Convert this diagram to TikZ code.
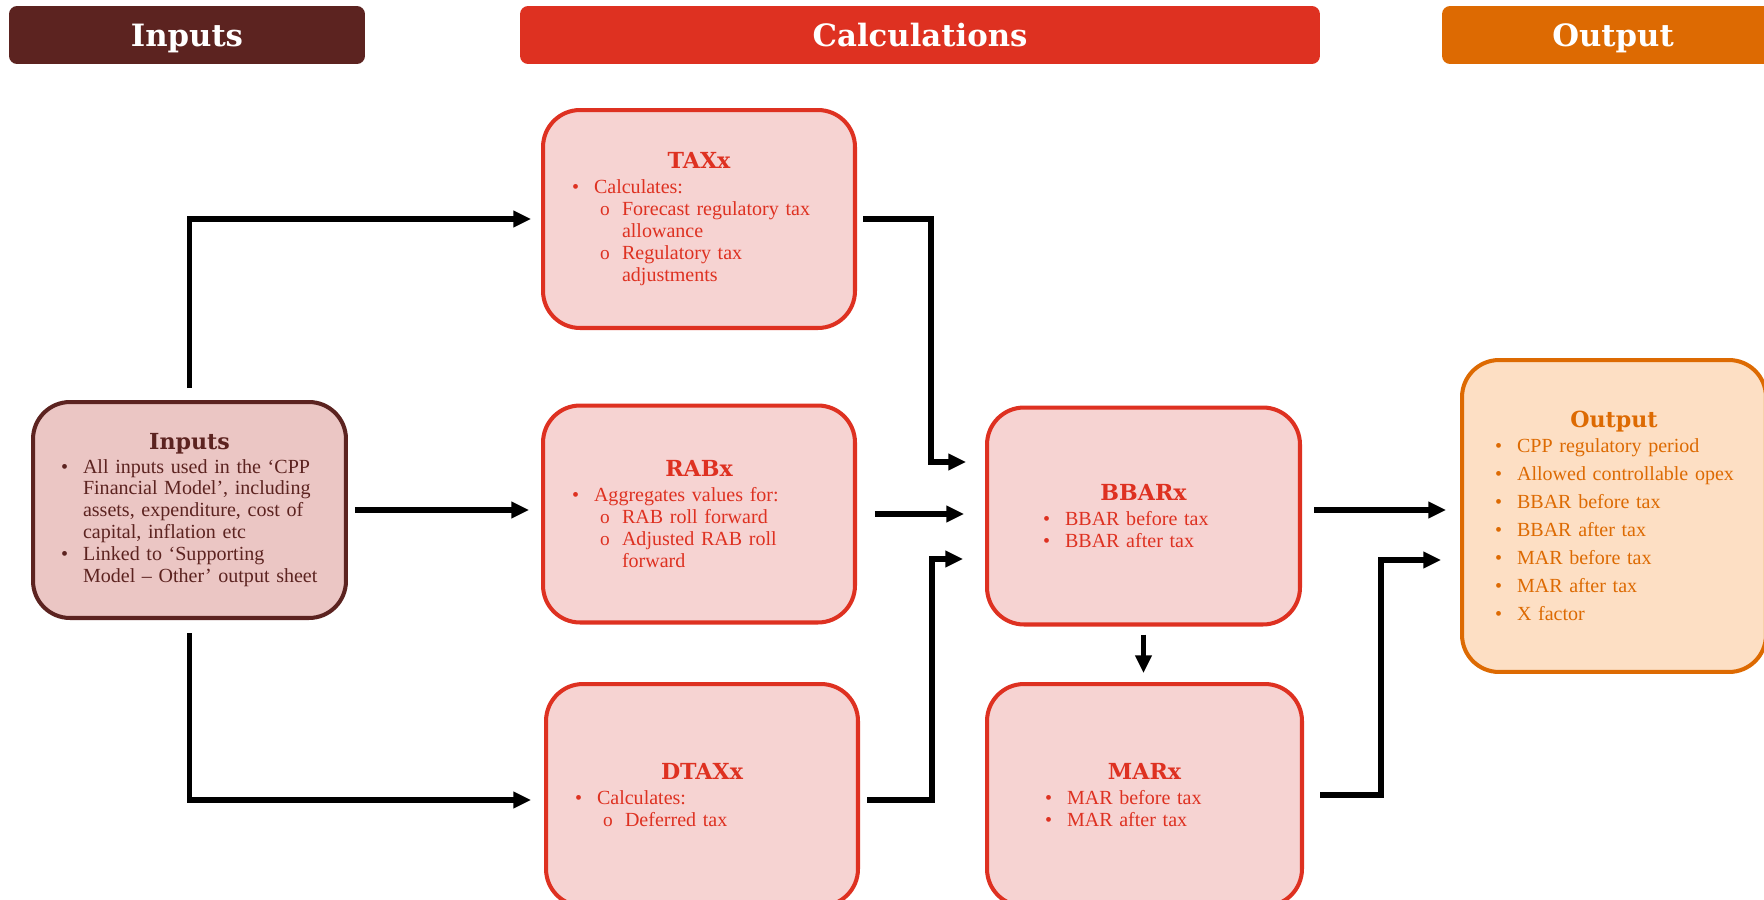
\documentclass[tikz,border=0pt]{standalone}
\usepackage{fontspec}
\setmainfont{Liberation Serif}
\newfontfamily\hdfont{DejaVu Serif}
\usetikzlibrary{arrows.meta, calc}

\definecolor{i1}{HTML}{5C2320}
\definecolor{i2}{HTML}{EBC6C4}
\definecolor{c1}{HTML}{DE3121}
\definecolor{c2}{HTML}{F6D3D2}
\definecolor{o1}{HTML}{DD6A02}
\definecolor{o2}{HTML}{FDDFC4}

% one pixel of the layout
\newdimen\pxu \pxu=0.02cm

% box title and list lines (indents in pixels from the box edge)
\newcommand\ttl[1]{\makebox[\linewidth]{\hdfont\bfseries\fontsize{12.6}{15}\selectfont #1}}
\newcommand\bl[2][29]{\hspace*{#1\pxu}\makebox[22\pxu][l]{\textbullet}#2}
\newcommand\sbl[2][57]{\hspace*{#1\pxu}\makebox[22\pxu][l]{\fontsize{11}{11}\selectfont o}#2}
\newcommand\cnt[2][79]{\hspace*{#1\pxu}#2}

\begin{document}
\begin{tikzpicture}[x=0.02cm, y=-0.02cm,
    bar/.style={rounded corners=0.16cm, inner sep=0, minimum height=1.16cm,
        text height=0.45cm, text depth=0pt,
        text=white, font=\hdfont\bfseries\fontsize{17.5}{20}\selectfont},
    box/.style={rounded corners=0.74cm, line width=2.3pt, inner sep=0,
        align=left, font=\fontsize{11.4}{12.5}\selectfont},
    ibox/.style={box, draw=i1, fill=i2, text=i1},
    cbox/.style={box, draw=c1, fill=c2, text=c1},
    obox/.style={box, draw=o1, fill=o2, text=o1},
    arr/.style={line width=3.2pt, -{Triangle[length=10pt,width=9pt]}}]

    \useasboundingbox (0,0) rectangle (1764,899);

    % column headers
    \node[bar, fill=i1, minimum width=7.12cm] (inH) at (187,35) {Inputs};
    \node[bar, fill=c1, minimum width=16cm] (calcH) at (920,35) {Calculations};
    \node[bar, fill=o1, minimum width=6.84cm] (outH) at (1613,35) {Output};

    % inputs
    \node[ibox, text width=6.26cm, minimum height=4.32cm] (inp) at (189.5,510) {%
        \ttl{Inputs}\\[2\pxu]
        \bl[28]{All inputs used in the `CPP}\\
        \cnt[50]{Financial Model', including}\\
        \cnt[50]{assets, expenditure, cost of}\\
        \cnt[50]{capital, inflation etc}\\
        \bl[28]{Linked to `Supporting}\\
        \cnt[50]{Model -- Other' output sheet}};

    % calculations
    \node[cbox, text width=6.24cm, minimum height=4.36cm] (tax) at (699,219) {%
        \ttl{TAXx}\\[3\pxu]
        \bl{Calculates:}\\
        \sbl{Forecast regulatory tax}\\
        \cnt{allowance}\\
        \sbl{Regulatory tax}\\
        \cnt{adjustments}};
    \node[cbox, text width=6.24cm, minimum height=4.34cm] (rab) at (699,514) {%
        \ttl{RABx}\\[3\pxu]
        \bl{Aggregates values for:}\\
        \sbl{RAB roll forward}\\
        \sbl{Adjusted RAB roll}\\
        \cnt{forward}};
    \node[cbox, text width=6.24cm, minimum height=4.44cm] (dtax) at (702,795) {%
        \ttl{DTAXx}\\[3\pxu]
        \bl{Calculates:}\\
        \sbl{Deferred tax}};
    \node[cbox, text width=6.26cm, minimum height=4.34cm] (bbar) at (1143.5,516) {%
        \ttl{BBARx}\\[3\pxu]
        \bl[56]{BBAR before tax}\\
        \bl[56]{BBAR after tax}};
    \node[cbox, text width=6.3cm, minimum height=4.44cm] (mar) at (1144.5,795) {%
        \ttl{MARx}\\[3\pxu]
        \bl[58]{MAR before tax}\\
        \bl[58]{MAR after tax}};

    % output
    \node[obox, text width=6.08cm, minimum height=6.24cm] (outb) at (1614,516) {%
        \ttl{Output}\\[3\pxu]
        \bl[33]{CPP regulatory period}\\[6\pxu]
        \bl[33]{Allowed controllable opex}\\[6\pxu]
        \bl[33]{BBAR before tax}\\[6\pxu]
        \bl[33]{BBAR after tax}\\[6\pxu]
        \bl[33]{MAR before tax}\\[6\pxu]
        \bl[33]{MAR after tax}\\[6\pxu]
        \bl[33]{X factor}};

    % inputs to calculations
    \draw[arr, shorten <=0.24cm, shorten >=0.2cm] (inp.north) |- (tax.west);
    \draw[arr, shorten <=0.14cm, shorten >=0.24cm] (inp.east) -- (inp.east -| rab.west);
    \draw[arr, shorten <=0.26cm, shorten >=0.26cm] (inp.south) |- ([yshift=-0.1cm]dtax.west);

    % into BBARx
    \draw[arr, shorten <=0.12cm, shorten >=0.38cm] (tax.east) -- ++(74,0) |- ([yshift=1.08cm]bbar.west);
    \draw[arr, shorten <=0.36cm, shorten >=0.42cm] (rab.east) -- (rab.east -| bbar.west);
    \draw[arr, shorten <=0.14cm, shorten >=0.44cm] ([yshift=-0.1cm]dtax.east) -- ++(72,0) |- ([yshift=-0.86cm]bbar.west);
    \draw[arr, shorten <=0.16cm, shorten >=0.18cm] (bbar.south) -- (bbar.south |- mar.north);

    % to output
    \draw[arr, shorten <=0.24cm, shorten >=0.28cm] ([yshift=0.12cm]bbar.east) -- ([yshift=0.12cm]bbar.east -| outb.west);
    \draw[arr, shorten <=0.32cm, shorten >=0.38cm] (mar.east) -- ++(77,0) |- ([yshift=-0.88cm]outb.west);

\end{tikzpicture}
\end{document}
